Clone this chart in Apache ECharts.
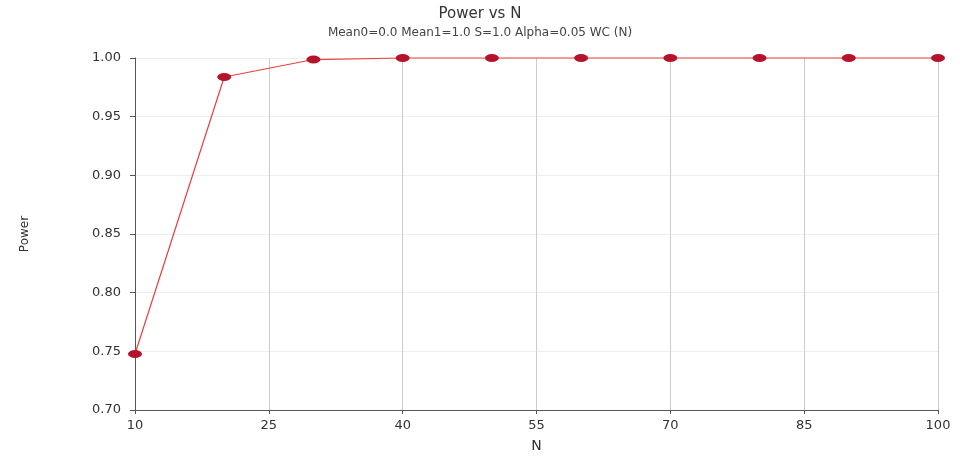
<!DOCTYPE html>
<html><head><meta charset="utf-8">
<script src="https://cdn.jsdelivr.net/npm/echarts@6/dist/echarts.min.js"></script>
<style>html,body{margin:0;padding:0;background:#fff}#c{width:960px;height:457px}</style>
</head><body><div id="c"></div>
<script>
const nValues = [10, 20, 30, 40, 50, 60, 70, 80, 90, 100];
const powerValues = [0.7477, 0.9838, 0.9987, 1.0, 1.0, 1.0, 1.0, 1.0, 1.0, 1.0];
const titleText = 'Power vs N';
const subtitleText = 'Mean0=0.0 Mean1=1.0 S=1.0 Alpha=0.05 WC (N)';
const xName = 'N';
const yName = 'Power';

const chart = echarts.init(document.getElementById('c'));
const font = 'DejaVu Sans';
chart.setOption({
  backgroundColor: '#fff',
  animation: false,
  title: {
    text: titleText, subtext: subtitleText, left: 'center', top: 2, itemGap: 5,
    textStyle: {fontFamily: font, fontSize: 15, fontWeight: 'normal', color: '#333'},
    subtextStyle: {fontFamily: font, fontSize: 12, color: '#444'}
  },
  grid: {left: 135, right: 22, top: 58, bottom: 47, containLabel: false, outerBoundsMode: 'none'},
  xAxis: {
    type: 'value', min: 10, max: 100, interval: 15,
    name: xName, nameLocation: 'middle', nameGap: 29,
    nameTextStyle: {fontFamily: font, fontSize: 14, color: '#333'},
    axisLine: {onZero: false, lineStyle: {color: '#555'}},
    axisTick: {show: true, length: 4, lineStyle: {color: '#555'}},
    axisLabel: {fontFamily: font, fontSize: 13, color: '#333', margin: 9},
    splitLine: {show: true, lineStyle: {color: '#ccc'}}
  },
  yAxis: {
    type: 'value', min: 0.70, max: 1.00, interval: 0.05,
    name: yName, nameLocation: 'middle', nameGap: 104, nameRotate: 90,
    nameTextStyle: {fontFamily: font, fontSize: 12, color: '#333'},
    axisLine: {show: true, lineStyle: {color: '#555'}},
    axisTick: {show: true, length: 5, lineStyle: {color: '#555'}},
    axisLabel: {fontFamily: font, fontSize: 13, color: '#333', margin: 14,
      formatter: v => v.toFixed(2)},
    splitLine: {show: true, lineStyle: {color: '#eee'}}
  },
  series: [{
    type: 'line',
    data: nValues.map((n, i) => [n, powerValues[i]]),
    symbol: 'circle', symbolSize: [14, 8],
    itemStyle: {color: '#b5132b'},
    lineStyle: {color: '#e8413a', width: 1.2},
    clip: false
  }]
});
</script></body></html>
